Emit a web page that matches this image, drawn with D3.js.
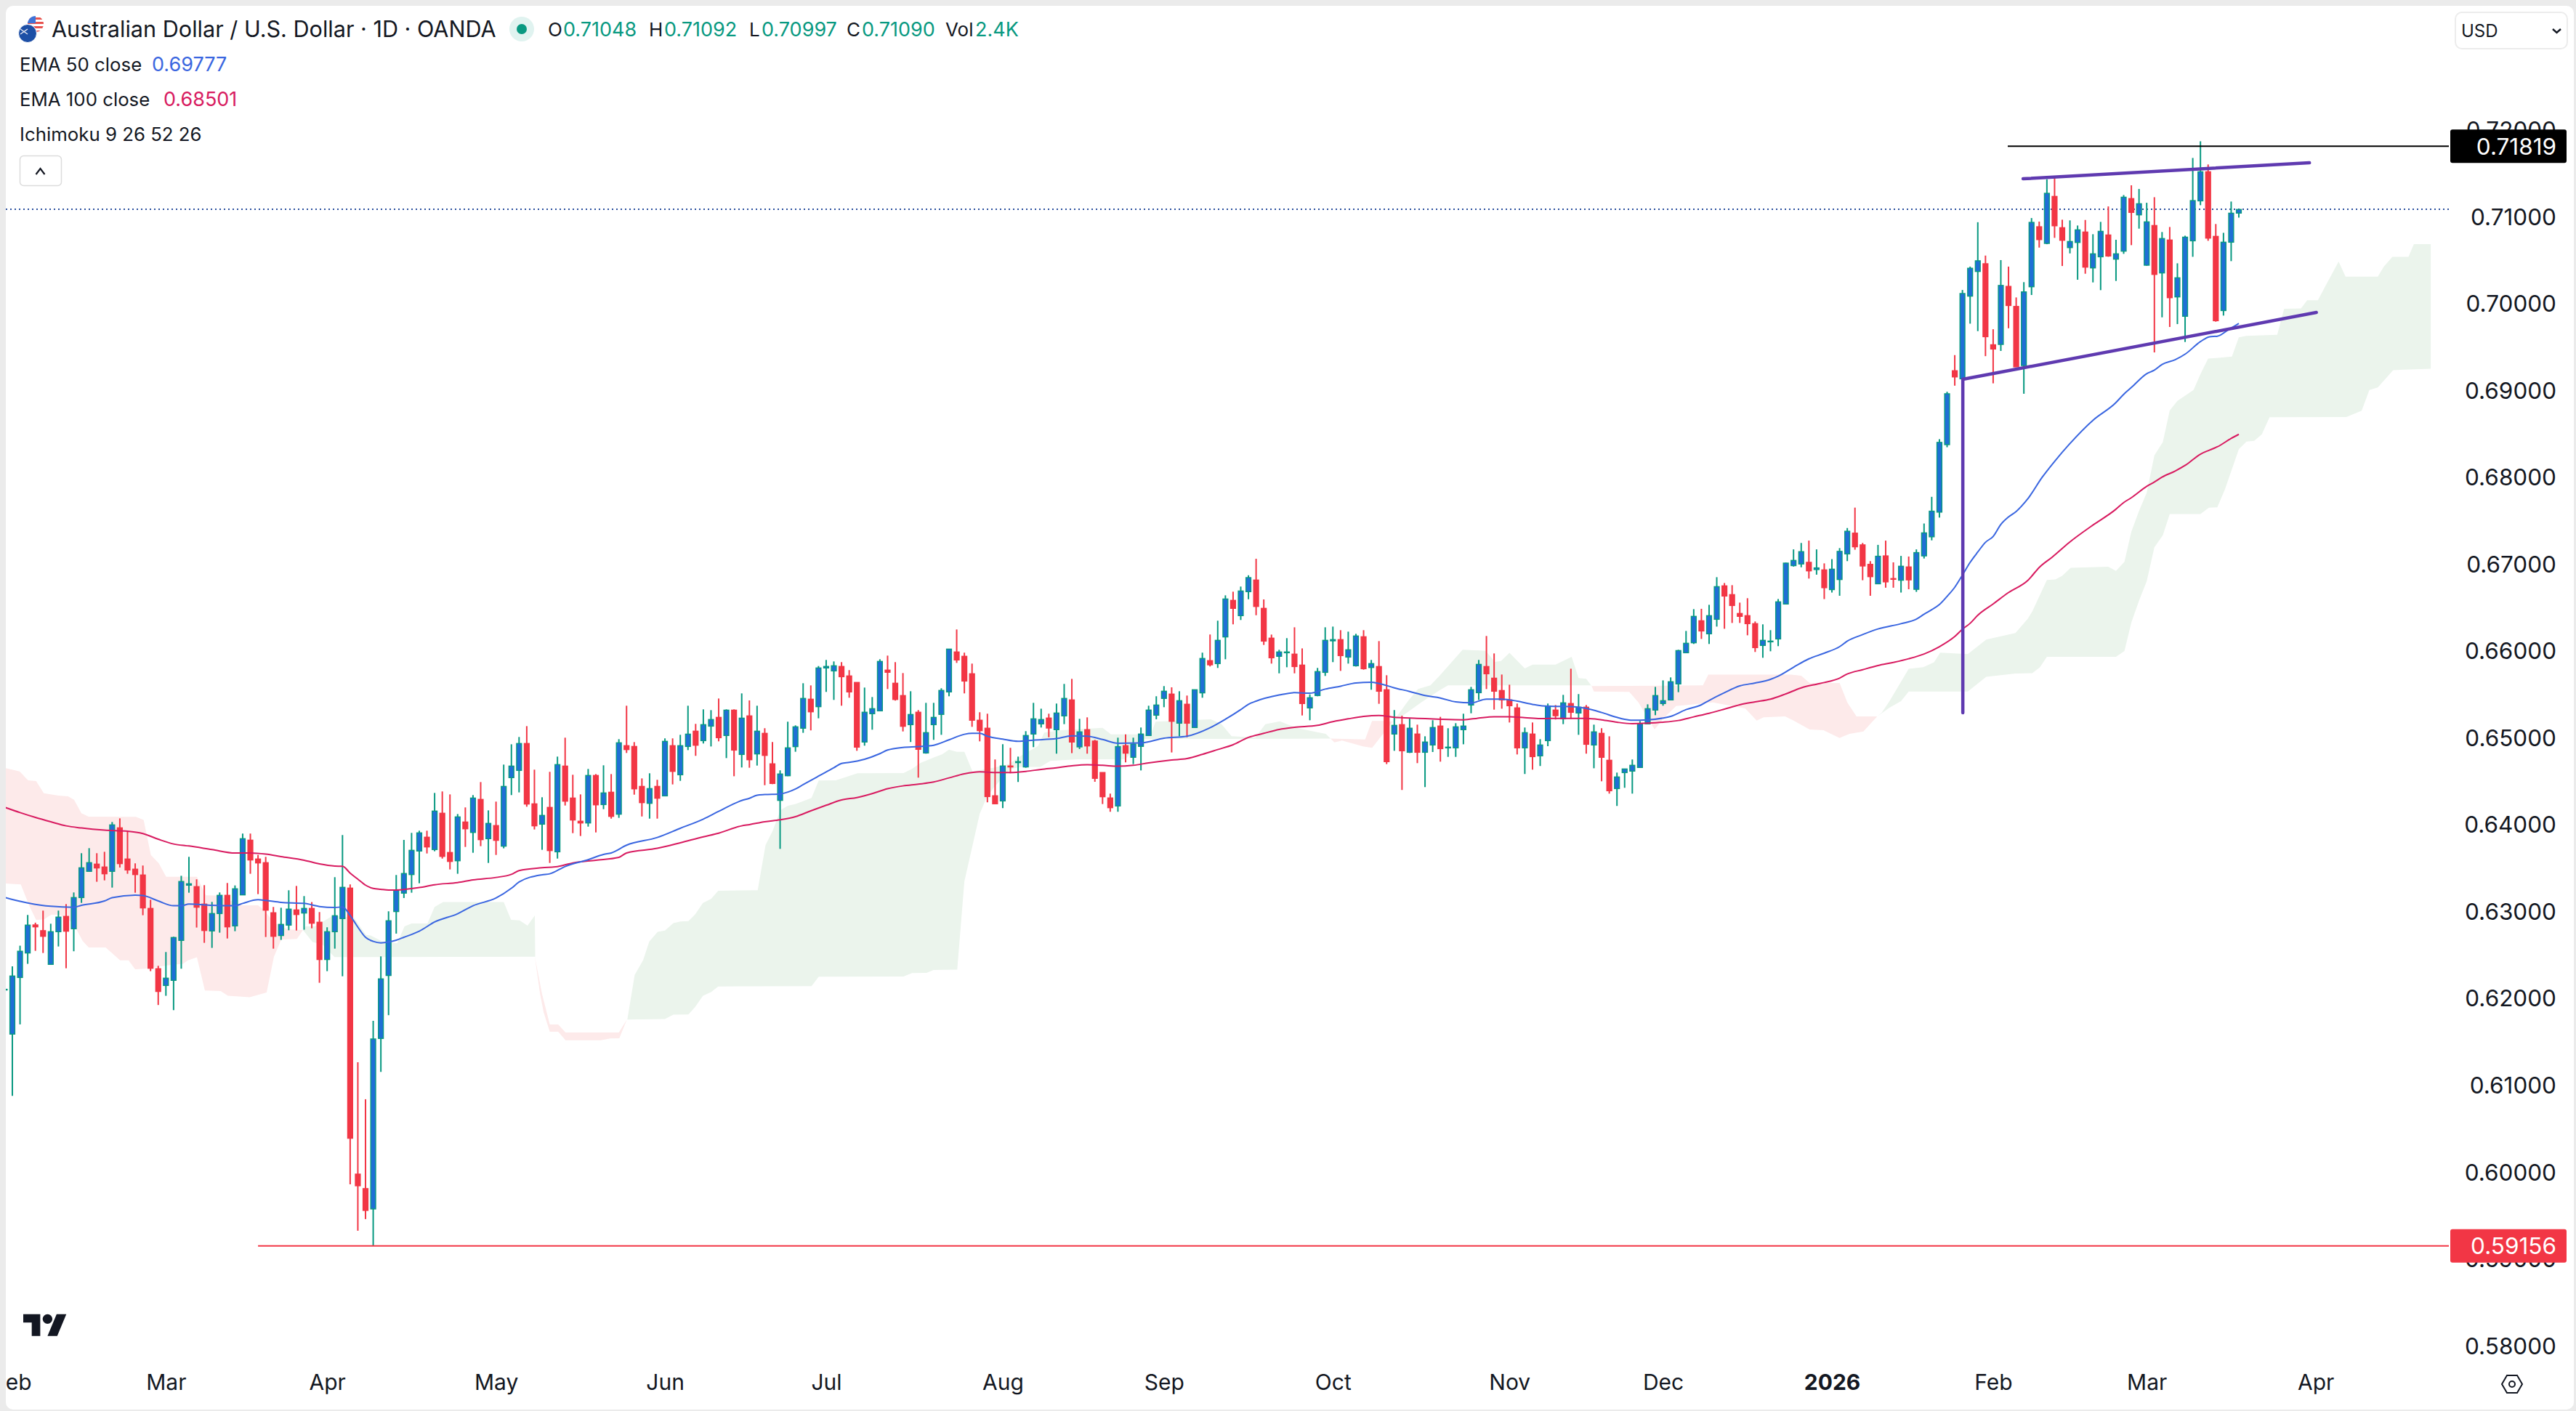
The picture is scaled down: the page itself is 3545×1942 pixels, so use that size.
<!DOCTYPE html>
<html><head><meta charset="utf-8">
<script src="https://cdn.jsdelivr.net/npm/d3@7/dist/d3.min.js"></script>
<style>html,body{margin:0;padding:0;background:#ebebeb;overflow:hidden}svg{display:block;font-family:Inter,"Liberation Sans",sans-serif}</style>
</head><body><svg id="c" width="3545" height="1942"></svg>
<script>
// --- candles: [open, high, low, close] in 1/100000 of a dollar, by month ---
const feb25=[[62111,62130,62090,62111],[61595,62376,60884,62264],[62247,62613,61707,62549],[62529,62967,62404,62850],[62852,62878,62554,62830],[62786,63017,62529,62721],[62398,62866,62398,62774],[62774,63017,62604,62942],[62950,63092,62353,62780],[62808,63226,62549,63167],[63167,63678,63106,63510],[63469,63736,63469,63569],[63552,63678,63349,63508],[63519,63694,63365,63441],[63469,64037,63282,64004],[63970,64079,63513,63558],[63611,63923,63441,63485],[63494,63561,63223,63432],[63427,63536,62964,63048],[63042,63142,62320,62353],[62348,62381,61930,62086]];
const mar25=[[62155,62540,62036,62239],[62214,62716,61871,62707],[62674,63418,62348,63352],[63310,63636,63223,63326],[63293,63377,62822,63056],[63092,63310,62646,62788],[62783,63117,62588,62983],[62983,63226,62763,63193],[63193,63335,62696,62830],[62841,63307,62780,63268],[63198,63904,63198,63845],[63828,63904,63441,63600],[63611,63658,63207,63566],[63569,63636,62713,63022],[62992,63059,62579,62721],[62730,63050,62680,62858],[62850,63251,62791,63034],[63025,63301,62788,62972],[62989,63184,62797,63042],[63042,63115,62813,62872],[62883,63000,62186,62454]];
const apr25=[[62454,62825,62320,62774],[62774,63402,62579,62958],[62925,63887,62261,63285],[63276,63318,59866,60396],[59983,61271,59331,59849],[59816,60845,59465,59565],[59582,61748,59156,61539],[61545,62490,61160,62231],[62270,63009,61813,62900],[63006,63427,62752,63254],[63218,63831,63162,63444],[63432,63912,63223,63711],[63703,63937,63332,63912],[63862,63937,63675,63750],[63720,64372,63700,64163],[64138,64389,63616,63641],[63686,64355,63491,63583],[63591,64129,63441,64096],[64037,64205,63750,63959],[63917,64347,63683,64313],[64297,64497,63759,63834],[63845,64171,63566,64021]];
const may25=[[63996,64272,63658,63826],[63759,64698,63734,64447],[64548,64932,64347,64681],[64631,65016,64378,64941],[64941,65141,64213,64244],[64246,64640,63951,63993],[64012,64322,63717,64113],[64205,64615,63566,63708],[63694,64790,63616,64698],[64681,65008,64227,64277],[64313,64581,63909,64060],[64046,64355,63876,64026],[64026,64648,63984,64573],[64573,64589,63917,64235],[64238,64690,64185,64372],[64380,64589,64076,64102],[64127,64991,64085,64949],[64916,65376,64832,64871],[64907,64957,64352,64419],[64447,64539,64101,64260],[64252,64598,64076,64422],[64447,64523,64076,64311]];
const jun25=[[64338,65000,64338,64966],[64916,65000,64470,64620],[64581,65041,64511,64916],[64907,65376,64865,65049],[65083,65167,64799,64921],[64974,65334,64941,65158],[65141,65325,64907,65217],[65242,65459,64966,65008],[65033,65334,64773,65325],[65325,65334,64564,64865],[64815,65518,64665,65233],[65259,65437,64662,64754],[64821,65376,64687,65083],[65058,65117,64461,64804],[64707,64958,64473,64481],[64286,64632,63728,64590],[64570,65192,64565,64891],[64905,65150,64846,65133],[65117,65635,65064,65460],[65451,65610,65092,65306],[65365,65833,65231,65811]];
const jul25=[[65811,65903,65535,65828],[65777,65886,65443,65836],[65828,65878,65376,65710],[65719,65786,65468,65535],[65644,65644,64857,64899],[64958,65585,64916,65301],[65284,65476,65100,65342],[65317,65911,65317,65886],[65786,65953,65568,65761],[65635,65878,65435,65448],[65493,65752,65080,65139],[65158,65543,64958,65275],[65301,65326,64548,64874],[64832,65409,64824,65066],[65158,65409,64983,65242],[65276,65577,65041,65552],[65535,66028,65485,66028],[65995,66254,65869,65903],[65945,65987,65518,65660],[65744,65861,65133,65209],[65209,65301,64966,65089],[65117,65284,64264,64330],[64339,64757,64247,64247]];
const aug25=[[64280,64933,64197,64682],[64682,64891,64598,64671],[64721,64790,64498,64732],[64671,65083,64662,65033],[65050,65409,64899,65225],[65167,65342,65125,65217],[65234,65284,65013,65119],[65100,65401,64824,65292],[65259,65627,65164,65460],[65443,65685,64830,64958],[64902,65225,64877,65075],[65100,65242,64824,64913],[64969,64983,64500,64540],[64607,64607,64244,64328],[64314,64364,64155,64202],[64222,65008,64155,64905],[64916,65047,64724,64830],[64782,65008,64704,64935],[64908,65125,64631,65050],[65033,65376,65033,65326],[65267,65485,65220,65384]];
const sep25=[[65460,65602,65359,65543],[65510,65588,64838,65197],[65175,65543,65025,65434],[65393,65493,65013,65175],[65125,65560,65125,65560],[65524,65987,65468,65920],[65895,66196,65828,65847],[65861,66355,65811,66129],[66168,66647,65911,66605],[66589,66689,66313,66497],[66413,66748,66363,66697],[66689,66878,66602,66851],[66823,67068,66418,66519],[66497,66600,66076,66120],[66154,66195,65861,65928],[65945,66020,65749,65995],[65986,66154,65819,65995],[65970,66279,65749,65827],[65844,66036,65264,65401],[65351,65507,65209,65468],[65493,65811,65485,65769],[65760,66279,65719,66129]];
const oct25=[[66123,66287,65878,66137],[66137,66246,65777,65953],[65936,66229,65861,66020],[65836,66204,65827,66179],[66170,66246,65791,65802],[65816,65903,65560,65861],[65827,66120,65398,65543],[65560,65727,64704,64732],[65050,65326,64857,65150],[65158,65261,64406,64857],[64840,65234,64832,65117],[65050,65158,64715,64840],[64840,65024,64439,64958],[64924,65209,64843,65125],[65142,65248,64732,64882],[64891,65117,64787,64899],[64891,65175,64787,65133],[65100,65284,64932,65142],[65384,65593,65289,65560],[65526,65903,65443,65852],[65827,66179,65568,65744],[65693,65978,65331,65543],[65551,65735,65342,65443]];
const nov25=[[65443,65618,65183,65376],[65351,65401,64815,64891],[64891,65125,64590,65066],[65050,65183,64640,64790],[64799,64991,64682,64924],[64974,65401,64910,65373],[65326,65384,65217,65261],[65225,65501,65164,65409],[65401,65802,65225,65300],[65292,65510,65041,65359],[65359,65384,64824,64932],[64924,65158,64656,65075],[65058,65117,64506,64782],[64748,65024,64364,64397],[64422,64606,64222,64556],[64606,64648,64431,64648],[64623,64757,64364,64690],[64665,65200,64665,65167],[65167,65392,65167,65342],[65326,65593,65267,65493]];
const dec25=[[65401,65668,65376,65434],[65443,65702,65443,65652],[65627,66020,65532,66011],[65986,66237,65986,66095],[66101,66488,66087,66405],[66354,66492,66145,66237],[66204,66538,66087,66413],[66371,66856,66287,66747],[66756,66789,66262,66639],[66655,66764,66329,66530],[66438,66563,66329,66405],[66413,66614,66187,66321],[66321,66346,65995,66045],[66070,66313,65928,66129],[66112,66246,66003,66120],[66145,66605,66062,66572],[66547,67023,66547,67018],[66989,67176,66978,67049],[67008,67250,66970,67150],[67027,67277,66840,66929],[66944,67176,66885,66963],[66940,67015,66604,66735]];
const jan26=[[66713,67064,66679,66948],[66829,67191,66642,67153],[67124,67422,67041,67385],[67363,67657,67172,67206],[67228,67250,66821,66985],[67004,67041,66642,66862],[66780,67228,66780,67097],[67101,67277,66735,66802],[66840,67027,66735,66832],[66821,67101,66679,66982],[66974,67094,66717,66825],[66716,67176,66687,67139],[67101,67474,67071,67366],[67321,67781,67280,67616],[67605,68445,67542,68408],[68382,68991,68352,68968],[69233,69413,69061,69162],[69140,70163,69013,70122],[70092,70432,69775,70413],[70376,70943,69689,70499],[70465,70559,69401,69625]];
const feb26=[[69532,69711,69088,69483],[69536,70507,69461,70215],[70204,70432,69722,69984],[69973,70077,69278,69278],[69293,70253,68968,70141],[70200,70991,70105,70941],[70891,70950,70651,70743],[70699,71438,70690,71276],[71240,71474,70763,70902],[70880,70972,70439,70735],[70651,70964,70584,70721],[70710,70905,70281,70855],[70830,70969,70350,70426],[70417,70805,70250,70579],[70545,70947,70161,70838],[70796,71125,70545,70554],[70518,70741,70267,70579],[70610,71256,70579,71231],[71215,71368,70679,71056],[71028,71326,70869,71156]];
const mar26=[[70448,71167,70442,70947],[70905,71231,69444,70342],[70359,70830,69848,70755],[70738,70888,69737,70074],[70083,70470,69770,70303],[69860,70788,69564,70771],[70729,71683,70545,71192],[71189,71875,71139,71524],[71524,71608,70729,70760],[70780,70922,69798,69809],[69926,70821,69868,70713],[70713,71181,70495,71047],[71048,71092,70997,71090]];

// --- moving averages: [session index, price x 100000] ---
const ema50=[[-1,63170],[0,63145],[2,63106],[5,63067],[8,63056],[9,63078],[12,63128],[13,63165],[16,63195],[17,63190],[19,63128],[21,63073],[22,63073],[23,63092],[26,63078],[29,63073],[30,63100],[32,63142],[33,63134],[35,63112],[38,63100],[40,63064],[42,63053],[43,63059],[44,62961],[45,62827],[46,62710],[47,62663],[48,62646],[49,62655],[50,62677],[51,62710],[53,62780],[55,62886],[58,62981],[60,63073],[63,63162],[65,63274],[66,63346],[69,63430],[70,63441],[72,63525],[75,63603],[77,63664],[78,63681],[80,63770],[84,63859],[87,63965],[90,64071],[92,64160],[95,64285],[96,64310],[97,64345],[98,64353],[100,64361],[102,64417],[103,64467],[105,64565],[107,64662],[108,64712],[109,64724],[111,64760],[113,64824],[114,64866],[116,64896],[118,64905],[120,64921],[122,64983],[124,65047],[125,65058],[126,65058],[127,65025],[129,64991],[131,64966],[133,64980],[136,64997],[138,65030],[140,65025],[142,64988],[144,64944],[147,64947],[150,65002],[153,65025],[156,65122],[158,65220],[160,65331],[161,65393],[162,65429],[165,65499],[167,65526],[169,65521],[171,65568],[173,65601],[175,65638],[177,65646],[178,65632],[180,65582],[182,65540],[184,65493],[186,65465],[188,65420],[190,65409],[192,65451],[194,65451],[196,65429],[198,65392],[200,65370],[203,65367],[205,65345],[207,65298],[209,65242],[210,65220],[211,65209],[213,65214],[215,65234],[216,65253],[218,65331],[220,65387],[221,65437],[223,65526],[225,65604],[227,65638],[229,65680],[230,65716],[232,65819],[234,65916],[236,65981],[238,66056],[239,66120],[241,66195],[243,66260],[246,66321],[248,66373],[249,66429],[250,66481],[251,66541],[252,66635],[253,66740],[254,66880],[255,67026],[256,67146],[257,67258],[258,67325],[259,67463],[260,67549],[261,67613],[262.5,67757],[264.4,68008],[266,68189],[267.9,68385],[271,68663],[273.9,68859],[275.1,68970],[276,69040],[278,69199],[279,69240],[280,69305],[281.7,69360],[283.1,69430],[285,69569],[286.2,69625],[287.2,69631],[288.7,69709],[290,69777]];
const ema100=[[-1,64207],[1,64146],[3,64090],[5,64040],[7,63993],[9,63968],[12,63943],[15,63931],[17,63904],[19,63839],[21,63784],[23,63761],[26,63720],[29,63680],[31,63680],[33,63667],[35,63639],[38,63597],[40,63555],[42,63530],[43,63527],[44,63449],[45,63379],[46,63310],[47,63273],[48,63262],[49,63254],[50,63254],[53,63282],[55,63315],[58,63340],[60,63371],[63,63399],[65,63435],[66,63477],[69,63510],[71,63524],[73,63566],[76,63597],[79,63630],[80,63681],[84,63734],[87,63798],[90,63867],[92,63909],[95,63993],[96,64007],[98,64040],[100,64063],[102,64099],[104,64166],[106,64230],[108,64291],[110,64319],[112,64364],[114,64420],[116,64453],[118,64473],[120,64498],[122,64545],[124,64592],[126,64615],[128,64607],[130,64607],[132,64620],[134,64643],[136,64662],[138,64684],[140,64696],[142,64690],[144,64679],[146,64690],[148,64718],[151,64751],[153,64768],[155,64816],[157,64871],[159,64927],[161,65011],[163,65058],[165,65103],[167,65128],[170,65150],[172,65192],[174,65225],[176,65253],[178,65264],[180,65242],[183,65231],[186,65220],[189,65214],[191,65234],[193,65248],[195,65248],[197,65239],[199,65228],[202,65231],[205,65231],[207,65214],[209,65186],[211,65170],[213,65175],[215,65186],[217,65206],[219,65248],[221,65289],[223,65337],[225,65387],[227,65420],[229,65451],[231,65512],[233,65582],[235,65624],[236,65643],[238,65694],[239,65741],[241,65791],[243,65839],[245,65875],[247,65917],[249,65972],[251,66056],[253,66173],[254,66257],[255,66325],[256,66418],[258,66548],[260,66679],[262.5,66818],[264.1,66977],[265.7,67088],[267.9,67255],[271,67456],[273.9,67632],[275,67715],[276,67771],[278,67902],[279,67952],[280,68008],[281.7,68078],[283.1,68148],[285,68273],[286.2,68320],[287.2,68357],[289,68454],[290,68501]];

// --- Ichimoku cloud: edges of each coloured patch, [session index, price x 100000] ---
const redCloudAUpper=[[-1,64659],[0.95,64620],[2.05,64517],[3.09,64509],[4.1,64369],[6,64341],[7.26,64333],[8.04,64294],[8.99,64138],[9.94,64099],[16.09,64096],[17.1,64062],[18.04,63658],[19.08,63561],[20.03,63407],[24.04,63407],[25.2,63193],[26.66,63190],[29.97,63078],[32,63078],[32.8,63022],[34.07,62880],[35.9,62800],[37.85,62794]];
const redCloudALower=[[-1,63329],[1.1,63318],[2.2,63073],[3.09,62911],[4.1,62914],[5.05,62970],[6.15,62970],[7.89,62878],[9.15,62668],[9.94,62593],[12.15,62593],[14.04,62445],[15.14,62445],[15.99,62342],[17.35,62348],[20.5,62390],[22.24,62404],[22.87,62445],[24.04,62479],[25.08,62097],[27.13,62091],[28.08,62036],[30.91,62019],[33.12,62075],[34.07,62487],[35.02,62682],[37.07,62691],[37.85,62794]];
const greenCloudAUpper=[[37.85,62794],[38.2,62836],[39.4,62836],[41.8,62961],[43.06,62947],[44.5,62933],[46.06,62738],[46.66,62730],[48.24,62660],[50.13,62641],[51.08,62836],[52,62869],[54.07,62869],[55,63059],[56.1,63115],[64,63115],[64.96,62911],[66.06,62905],[67.1,62844],[68.05,62961],[68.1,62487]];
const greenCloudALower=[[37.85,62794],[39.1,62655],[40.4,62627],[41.96,62482],[68.1,62487]];
const redCloudBUpper=[[68.05,62487],[69,62055],[70,61707],[71.1,61707],[72.05,61615],[79,61615],[80.04,61762]];
const redCloudBLower=[[68.05,62487],[68.74,62055],[69.2,61846],[70,61623],[71.1,61623],[72.05,61525],[76.63,61525],[77.9,61545],[79.06,61548],[80.04,61762]];
const greenCloudBUpper=[[80.1,61763],[81.06,62278],[82.16,62446],[82.95,62660],[84.05,62772],[85,62788],[86.1,62872],[87.05,62892],[88.06,62897],[88.95,62975],[89.95,63106],[91,63151],[91.94,63246],[97.08,63251],[98.1,63770],[99.04,63937],[100.05,64174],[101,64224],[102.04,64244],[104.09,64313],[105.03,64514],[107.24,64517],[108.2,64545],[110.08,64598],[116.07,64601],[117.18,64648],[118.3,64718],[120.2,64787],[121.1,64815],[122,64871],[123,64846],[124,64846],[125.06,64620],[127.75,64662],[129.8,64704],[131.4,64802],[133.6,64913],[134.4,65066],[136.6,65094],[142,65122],[143.1,65047],[148.3,65047],[148.9,65192],[156.1,65220],[157.5,65164],[158.8,65025],[161.9,65011],[163.2,65164],[165.1,65197],[167.2,65122],[170.2,65066],[171.07,65052],[171.7,64997]];
const greenCloudBLower=[[80.1,61763],[85,61768],[86.1,61818],[88.06,61821],[88.95,61908],[89.95,62036],[91,62078],[91.94,62144],[104.09,62147],[105.03,62256],[116.07,62259],[117.18,62298],[119.07,62301],[120,62334],[123.07,62337],[124,63352],[126,64132],[126.8,64300],[127.75,64425],[130,64648],[131.4,64671],[133.9,64671],[135.2,64740],[138.8,64760],[145,64760],[147.2,64991],[171.7,64997]];
const redCloudCUpper=[[171.7,64997],[176.2,64988],[177.1,65200],[178.9,65200],[179.8,65192]];
const redCloudCLower=[[171.7,64997],[172.2,64955],[173.2,64974],[174.4,64946],[175.9,64907],[177.1,64891],[179.8,65192]];
const greenCloudCUpper=[[179.8,65192],[180.4,65261],[181.9,65443],[183.1,65568],[184.7,65610],[185.9,65721],[188.9,66020],[191.9,66009],[193.1,65880],[193.9,65890],[195,65986],[197,65805],[198,65850],[201,65850],[203.1,65939],[204,65694],[205,65685],[205.7,65602]];
const greenCloudCLower=[[179.8,65192],[181.3,65275],[183.5,65415],[185.9,65554],[187,65610],[205.7,65610]];
const redCloudDUpper=[[205.7,65602],[220.2,65610],[220.9,65735],[231.7,65735],[233,65721],[234.1,65638],[238,65638],[239,65415],[240.2,65253],[242.9,65253]];
const redCloudDLower=[[205.7,65602],[206,65540],[210.6,65535],[211.8,65415],[213.9,65103],[215.1,65234],[216.7,65373],[221.5,65415],[225.7,65345],[227.2,65206],[228.1,65242],[230.9,65253],[232,65206],[234.1,65103],[235.9,65094],[238,65005],[239.3,65053],[241.1,65080],[242.9,65253]];
const greenCloudDUpper=[[242.9,65253],[243.5,65298],[244.5,65428],[247,65802],[248.9,65820],[250.3,65876],[251.1,65988],[254.7,65970],[257.1,66138],[260.9,66212],[262.5,66377],[263.1,66461],[265,66823],[266.1,66829],[267,66871],[268.1,66963],[273,66977],[274,66929],[275.1,67032],[276,67381],[277,67618],[278,67827],[279,68259],[280.1,68412],[281,68775],[282,68886],[284.1,69012],[285,69193],[286,69374],[287.1,69380],[289.1,69397],[290,69617],[291,69634],[295,69647],[295.9,69946],[298.1,69951],[298.9,70044],[300.3,70044],[301.3,70211],[303,70490],[303.9,70317],[308.1,70317],[308.9,70434],[310,70545],[312.1,70545],[312.8,70690],[315,70690]];
const greenCloudDLower=[[242.9,65253],[244.5,65353],[246,65428],[247,65540],[254.7,65540],[257.1,65708],[260.9,65746],[263.1,65750],[264.1,65820],[265,65939],[274,65939],[275.1,66006],[276,66335],[277,66586],[278,66809],[279,67200],[280.1,67339],[281,67582],[285,67582],[286.1,67657],[287.2,67660],[288.2,67869],[290,68329],[291,68418],[292,68426],[293,68502],[294,68697],[304,68700],[306,68772],[307,69012],[308.1,69040],[310.1,69240],[315,69257]];

// --- drawn tools ---
const resistanceLevel=0.71819, supportLevel=0.59156, lastClose=0.71090;
const wedgeUpper=[[261.9,71443],[299.2,71627]];
const wedgeLower=[[254.05,69135],[300.1,69904]];
const poleLine=[[254.05,69135],[254.05,65295]];

// --- axis labels ---
const priceTicks=[0.58,0.59,0.60,0.61,0.62,0.63,0.64,0.65,0.66,0.67,0.68,0.69,0.70,0.71,0.72];
const monthLabels=["Feb","Mar","Apr","May","Jun","Jul","Aug","Sep","Oct","Nov","Dec","2026","Feb","Mar","Apr"];
const monthIndex=[0,20,41,63,85,106,129,150,172,195,215,237,258,278,300];

const candles=[...feb25,...mar25,...apr25,...may25,...jun25,...jul25,...aug25,...sep25,...oct25,...nov25,...dec25,...jan26,...feb26,...mar26]
  .map((r,k)=>({i:k-1,o:r[0]/1e5,h:r[1]/1e5,l:r[2]/1e5,c:r[3]/1e5}));

const INK="#131722", UP="#089981", UPBODY="#1f6fd6", DOWN="#f23645", PURPLE="#5f3ab0";
const x=d3.scaleLinear().domain([0,290]).range([17,3081]);
const y=d3.scaleLinear().domain([0.58,0.72]).range([1853,179.5]);
const svg=d3.select("#c");

svg.append("rect").attr("x",8).attr("y",8).attr("width",3534).attr("height",1932).attr("rx",10).attr("fill","#fff");
const defs=svg.append("defs");
defs.append("clipPath").attr("id","plot").append("rect").attr("x",8).attr("y",8).attr("width",3362).attr("height",1860);
defs.append("clipPath").attr("id","timeClip").append("rect").attr("x",8).attr("y",1870).attr("width",3362).attr("height",70);

const plot=svg.append("g").attr("clip-path","url(#plot)");
const line=d3.line().x(d=>x(d[0])).y(d=>y(d[1]/1e5));

// cloud
const patches=[[redCloudAUpper,redCloudALower,"red"],[greenCloudAUpper,greenCloudALower,"green"],[redCloudBUpper,redCloudBLower,"red"],[greenCloudBUpper,greenCloudBLower,"green"],[redCloudCUpper,redCloudCLower,"red"],[greenCloudCUpper,greenCloudCLower,"green"],[redCloudDUpper,redCloudDLower,"red"],[greenCloudDUpper,greenCloudDLower,"green"]];
plot.append("g").selectAll("path").data(patches).join("path")
  .attr("d",p=>line(p[0].concat(p[1].slice().reverse()))+"Z")
  .attr("fill",p=>p[2]==="red"?"#fdeaea":"#ebf4ec");

// last price line
const lastY=Math.round(y(lastClose));
plot.append("line").attr("x1",8).attr("x2",3370).attr("y1",lastY).attr("y2",lastY)
  .attr("stroke","#2a4f9e").attr("stroke-width",2).attr("stroke-dasharray","2 4");

// candles
const cg=plot.append("g");
cg.selectAll("line").data(candles).join("line")
  .attr("x1",d=>x(d.i)).attr("x2",d=>x(d.i)).attr("y1",d=>y(d.h)).attr("y2",d=>y(d.l))
  .attr("stroke",d=>d.c>=d.o?UP:DOWN).attr("stroke-width",2);
cg.selectAll("rect").data(candles).join("rect")
  .attr("x",d=>x(d.i)-3.4).attr("width",6.8)
  .attr("y",d=>y(Math.max(d.o,d.c))).attr("height",d=>Math.max(1,Math.abs(y(d.o)-y(d.c))))
  .attr("fill",d=>d.c>=d.o?UPBODY:DOWN)
  .attr("stroke",d=>d.c>=d.o?UP:DOWN).attr("stroke-width",1.4);

// EMAs
const smooth=d3.line().x(d=>x(d[0])).y(d=>y(d[1]/1e5)).curve(d3.curveMonotoneX);
plot.append("path").attr("d",smooth(ema100)).attr("fill","none").attr("stroke","#d81b60").attr("stroke-width",2);
plot.append("path").attr("d",smooth(ema50)).attr("fill","none").attr("stroke","#3a66e0").attr("stroke-width",2);

// tools
plot.append("line").attr("x1",x(259.9)).attr("x2",3370).attr("y1",y(resistanceLevel)).attr("y2",y(resistanceLevel)).attr("stroke","#000").attr("stroke-width",2);
plot.append("line").attr("x1",x(32)).attr("x2",3370).attr("y1",y(supportLevel)).attr("y2",y(supportLevel)).attr("stroke",DOWN).attr("stroke-width",2);
[wedgeUpper,wedgeLower,poleLine].forEach(s=>plot.append("path").attr("d",line(s)).attr("fill","none")
  .attr("stroke",PURPLE).attr("stroke-width",4.5).attr("stroke-linecap","round"));

// axes
const yAxis=d3.axisRight(y).tickValues(priceTicks).tickFormat(d3.format(".5f")).tickSize(0).tickPadding(0);
const yg=svg.append("g").attr("transform","translate(3518,0)").call(yAxis);
yg.select(".domain").remove();
yg.selectAll("text").attr("text-anchor","end").attr("font-size",31.5).attr("font-family","Inter").attr("fill",INK);

const xAxis=d3.axisBottom(x).tickValues(monthIndex.map((m,k)=>m+k*1e-6)).tickFormat((d,k)=>monthLabels[k]).tickSize(0).tickPadding(0);
const xg=svg.append("g").attr("clip-path","url(#timeClip)").append("g").attr("transform","translate(0,1892)").call(xAxis);
xg.select(".domain").remove();
xg.selectAll("text").attr("dy",0).attr("y",21).attr("font-size",30).attr("font-family","Inter").attr("fill",INK)
  .attr("font-weight",(d,k)=>monthLabels[k]==="2026"?700:400);

// price labels
function priceBox(v,fill){
  const g=svg.append("g");
  g.append("rect").attr("x",3372).attr("y",y(v)-23).attr("width",160).attr("height",46).attr("rx",3).attr("fill",fill);
  g.append("text").attr("x",3518).attr("y",y(v)+11.5).attr("text-anchor","end").attr("font-size",31.5).attr("fill","#fff").text(d3.format(".5f")(v));
}
priceBox(resistanceLevel,"#000");
priceBox(supportLevel,DOWN);

// legend
function txt(px,py,s,size,fill){return svg.append("text").attr("x",px).attr("y",py).attr("font-size",size).attr("fill",fill).text(s);}
// flag icon
const us=svg.append("g");
us.append("circle").attr("cx",49).attr("cy",33).attr("r",11).attr("fill","#fff");
defs.append("clipPath").attr("id","usc").append("circle").attr("cx",49).attr("cy",33).attr("r",11);
const usg=us.append("g").attr("clip-path","url(#usc)");
[24,30,36,42].forEach(v=>usg.append("rect").attr("x",36).attr("y",v).attr("width",26).attr("height",3).attr("fill","#e8534f"));
usg.append("rect").attr("x",36).attr("y",20).attr("width",13).attr("height",12).attr("fill","#3f74d8");
svg.append("circle").attr("cx",38).attr("cy",46).attr("r",12.5).attr("fill","#1d4fa6").attr("stroke","#fff").attr("stroke-width",1);
svg.append("path").attr("d","M28 40L38 47M38 40L28 47").attr("stroke","#e9e9f2").attr("stroke-width",1.5);
txt(71,51,"Australian Dollar / U.S. Dollar · 1D · OANDA",30.6,INK);
svg.append("circle").attr("cx",718).attr("cy",40).attr("r",17).attr("fill","#e0f3f0");
svg.append("circle").attr("cx",718).attr("cy",40).attr("r",7).attr("fill",UP);
const ohlcLabels=["O","H","L","C","Vol"], ohlcValues=["0.71048","0.71092","0.70997","0.71090","2.4K"];
const ohlcLabelX=[754,893,1031,1165,1301], ohlcValueX=[775,914,1048,1186,1342];
ohlcLabels.forEach((l,k)=>{txt(ohlcLabelX[k],50,l,26,INK);txt(ohlcValueX[k],50,ohlcValues[k],27,UP);});
txt(27,98,"EMA 50 close",25.8,INK);txt(209,98,"0.69777",27,"#3a66e0");
txt(27,146,"EMA 100 close",25.8,INK);txt(225,146,"0.68501",27,"#d81b60");
txt(27,194,"Ichimoku 9 26 52 26",25.8,INK);
svg.append("rect").attr("x",27.5).attr("y",214.5).attr("width",57).attr("height",41).attr("rx",5).attr("fill","#fff").attr("stroke","#dcdcdc").attr("stroke-width",1.5);
svg.append("path").attr("d","M49.5 240L55.5 232L61.5 240").attr("fill","none").attr("stroke",INK).attr("stroke-width",2.2);

// currency box
svg.append("rect").attr("x",3379).attr("y",17).attr("width",154).attr("height",50).attr("rx",9).attr("fill","#fff").attr("stroke","#ececec").attr("stroke-width",2);
txt(3387,51,"USD",24,INK);
svg.append("path").attr("d","M3513 40L3518.5 45L3524 40").attr("fill","none").attr("stroke",INK).attr("stroke-width",2.4);

// logo
svg.append("path").attr("transform","translate(32,1802) scale(1.67)")
  .attr("d","M14 22H7V11H0V4h14v18zM28 22h-8l7.5-18h8L28 22z").attr("fill",INK);
svg.append("circle").attr("cx",32+20*1.67).attr("cy",1802+8*1.67).attr("r",4*1.67).attr("fill",INK);

// settings icon
svg.append("path").attr("d",d3.line()([[3443,1905],[3450,1893],[3464,1893],[3471,1905],[3464,1917],[3450,1917]])+"Z").attr("fill","none").attr("stroke",INK).attr("stroke-width",2);
svg.append("circle").attr("cx",3457).attr("cy",1905).attr("r",4).attr("fill","none").attr("stroke",INK).attr("stroke-width",2);
</script></body></html>
